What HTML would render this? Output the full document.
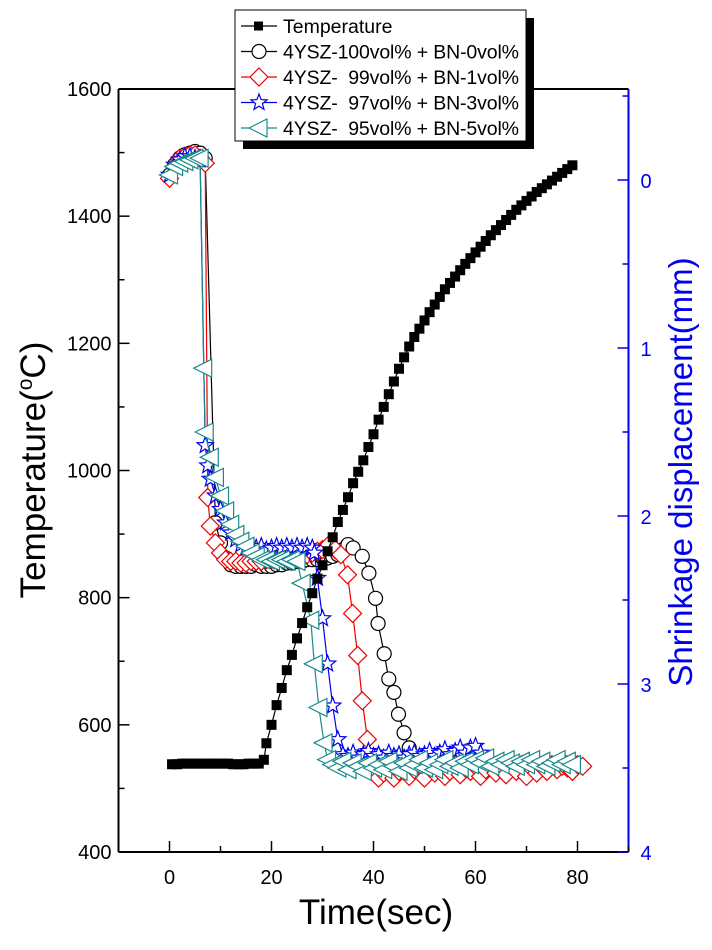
<!DOCTYPE html>
<html><head><meta charset="utf-8"><style>
body{margin:0;background:#fff;}
svg text{font-family:"Liberation Sans",Arial,sans-serif;}
</style></head><body>
<svg id="chart" width="712" height="945" xmlns="http://www.w3.org/2000/svg">
<g id="plot"></g>
<g id="axes"></g>
<text x="45" y="470" font-size="35" text-anchor="middle" transform="rotate(-90 45 470)">Temperature(<tspan font-size="21" dy="-13">o</tspan><tspan dy="13">C)</tspan></text>
<text x="692" y="472" font-size="33" fill="#0000ee" text-anchor="middle" transform="rotate(-90 692 472)">Shrinkage displacement(mm)</text>
<text x="376" y="924" font-size="35" text-anchor="middle">Time(sec)</text>
<g id="legend"></g>
</svg>
<script>
const tempT=[0.5,1.5,2.5,3.5,4.5,5.5,6.5,7.5,8.5,9.5,10.5,11.5,12.5,13.5,14.5,15.5,16.5,17.5,18.5,19,20,21,22,23,24,25,26,27,28,29,30,31,32,33,34,35,36,37,38,39,40,41,42,43,44,45,46,47,48,49,50,51,52,53,54,55,56,57,58,59,60,61,62,63,64,65,66,67,68,69,70,71,72,73,74,75,76,77,78,79];
const tempV=[538,538,539,539,539,539,539,539,539,539,539,539,538,538,538,539,539,539,545,571,600,631,658,686,710,736,760,785,807,830,851,873,895,919,938,958,980,998,1016,1037,1057,1080,1100,1120,1140,1160,1178,1195,1210,1223,1236,1249,1261,1273,1285,1295,1305,1315,1325,1334,1343,1352,1361,1370,1378,1386,1394,1402,1410,1417,1424,1431,1438,1444,1450,1456,1462,1468,1474,1480];
const s0T=[0,1,2,3,4,5,6,7,9,10,11,12,13,14,15,16,17,18,19,20,21,22,23,24,25,26,27,28,29,30,31,32,33,34,35,36,37.8,39.1,40.4,40.9,42.1,43,44,44.9,46,47,48,50,52,54,56,58,60,62,64,66,68,70,72,74,76,78,80];
const s0V=[-0.03,-0.09,-0.13,-0.15,-0.16,-0.17,-0.16,-0.13,2.04,2.16,2.25,2.29,2.30,2.30,2.30,2.30,2.29,2.30,2.30,2.30,2.29,2.29,2.28,2.28,2.27,2.27,2.26,2.26,2.26,2.25,2.25,2.24,2.23,2.20,2.17,2.19,2.24,2.34,2.49,2.64,2.82,2.97,3.05,3.18,3.29,3.38,3.45,3.47,3.48,3.47,3.49,3.47,3.48,3.50,3.49,3.48,3.50,3.51,3.49,3.50,3.48,3.47,3.49];
const s1T=[0,1,2,3,4,5,6,7,7.5,8,9,10,11,12,13,14,15,16,17,18,19,20,21,22,23,24,25,26,27,28,29,30,31.3,32.5,33.6,34.9,35.9,36.9,37.8,38.8,40,41,42,43,44,45,46,47,48,49,50,51,52,53,54,55,56,57,58,59,60,61,62,63,64,65,66,67,68,69,70,71,72,73,74,75,76,77,78,79,80,81];
const s1V=[-0.01,-0.08,-0.13,-0.14,-0.15,-0.15,-0.13,-0.10,1.89,2.06,2.16,2.22,2.26,2.27,2.27,2.28,2.28,2.27,2.27,2.27,2.26,2.26,2.26,2.25,2.25,2.25,2.24,2.24,2.23,2.22,2.21,2.20,2.17,2.20,2.23,2.35,2.58,2.83,3.10,3.33,3.50,3.56,3.53,3.50,3.56,3.52,3.49,3.55,3.51,3.48,3.56,3.50,3.53,3.49,3.55,3.52,3.48,3.54,3.50,3.52,3.49,3.55,3.51,3.48,3.53,3.50,3.54,3.49,3.52,3.48,3.55,3.50,3.53,3.49,3.52,3.48,3.51,3.49,3.50,3.52,3.48,3.49];
const s2T=[0,1,2,3,4,5,6,7,7.5,8,9,10,11,12,13,14,15,16,17,18,19,20,21,22,23,24,25,26,27,28,28.4,29,30,31,32,33,34,35,36,37,38,39,40,41,42,43,44,45,46,47,48,49,50,51,52,53,54,55,56,57,58,59,60,61];
const s2V=[-0.03,-0.09,-0.12,-0.14,-0.14,-0.13,-0.12,1.58,1.70,1.78,1.88,1.96,2.04,2.10,2.14,2.17,2.19,2.20,2.19,2.18,2.20,2.19,2.18,2.19,2.18,2.19,2.18,2.19,2.18,2.19,2.22,2.37,2.61,2.88,3.13,3.33,3.42,3.43,3.41,3.44,3.42,3.40,3.43,3.42,3.44,3.41,3.43,3.42,3.44,3.42,3.41,3.43,3.42,3.40,3.43,3.41,3.39,3.42,3.40,3.38,3.41,3.38,3.37,3.41];
const s3T=[0,1,2,3,4,5,6,6.7,7,8,9,10,11,12,13,14,15,16,17,18,19,20,21,22,23,24,25,26,27.7,28.4,29.3,30.3,31,32,33,34,35,36,37,38,39,40,41,42,43,44,45,46,47,48,49,50,51,52,53,54,55,56,57,58,59,60,61,62,63,64,65,66,67,68,69,70,71,72,73,74,75,76,77,78,79];
const s3V=[-0.03,-0.08,-0.10,-0.11,-0.12,-0.13,-0.13,1.12,1.50,1.65,1.77,1.88,1.97,2.05,2.11,2.15,2.18,2.22,2.24,2.26,2.26,2.27,2.26,2.26,2.27,2.26,2.27,2.40,2.62,2.88,3.14,3.35,3.45,3.48,3.50,3.46,3.51,3.47,3.49,3.52,3.47,3.50,3.48,3.51,3.46,3.49,3.52,3.47,3.50,3.48,3.45,3.50,3.47,3.51,3.48,3.45,3.49,3.47,3.50,3.46,3.48,3.45,3.47,3.44,3.49,3.46,3.48,3.45,3.47,3.49,3.46,3.48,3.45,3.48,3.46,3.49,3.47,3.45,3.48,3.46,3.48];
const xTicks=[0,20,40,60,80];
const yTicks=[400,600,800,1000,1200,1400,1600];
const y2Ticks=[0,1,2,3,4];
const legendLabels=["Temperature","4YSZ-100vol% + BN-0vol%","4YSZ-  99vol% + BN-1vol%","4YSZ-  97vol% + BN-3vol%","4YSZ-  95vol% + BN-5vol%"];

const L=118.5,R=628.5,T=89,B=852;
const X=t=>L+(t+10)/100*(R-L);
const Y=v=>B-(v-400)/1200*(B-T);
const Y2=m=>180+m*168;
const NS="http://www.w3.org/2000/svg";
function mk(tag,attrs,parent){const e=document.createElementNS(NS,tag);for(const k in attrs)e.setAttribute(k,attrs[k]);parent.appendChild(e);return e;}
const plot=document.getElementById('plot'),axes=document.getElementById('axes'),leg=document.getElementById('legend');

function marker(kind,x,y,col,parent){
  let e;
  if(kind==='sq'){e=mk('rect',{x:x-5,y:y-5,width:10,height:10,fill:'#000'},parent);}
  else if(kind==='ci'){e=mk('circle',{cx:x,cy:y,r:7,fill:'#fff',stroke:col,'stroke-width':1.2},parent);}
  else if(kind==='di'){e=mk('polygon',{points:`${x},${y-9} ${x+9},${y} ${x},${y+9} ${x-9},${y}`,fill:'#fff',stroke:col,'stroke-width':1.2},parent);}
  else if(kind==='st'){let p=[];for(let i=0;i<10;i++){const r=i%2?3.6:8.5,a=-Math.PI/2+i*Math.PI/5;p.push((x+r*Math.cos(a)).toFixed(1)+','+(y+r*Math.sin(a)).toFixed(1));}
    e=mk('polygon',{points:p.join(' '),fill:'#fff',stroke:col,'stroke-width':1.2},parent);}
  else {e=mk('polygon',{points:`${x-10},${y} ${x+8},${y-9} ${x+8},${y+9}`,fill:'#fff',stroke:col,'stroke-width':1.2},parent);}
  return e;
}
function series(ts,vs,ymap,kind,col,name){
  const g=mk('g',{},plot);
  
  
  const pts=ts.map((t,i)=>X(t).toFixed(1)+','+ymap(vs[i]).toFixed(1)).join(' ');
  mk('polyline',{points:pts,fill:'none',stroke:col,'stroke-width':1.2},g);
  ts.forEach((t,i)=>{const m=marker(kind,X(t),ymap(vs[i]),col,g);
    
    });
}
series(s0T,s0V,Y2,'ci','#000','bn0-series');
series(s1T,s1V,Y2,'di','#ee0000','bn1-series');
series(s2T,s2V,Y2,'st','#0000ee','bn3-series');
series(s3T,s3V,Y2,'tr','#1a8a8a','bn5-series');
series(tempT,tempV,Y,'sq','#000','temperature-series');

mk('line',{x1:L,y1:T,x2:R,y2:T,stroke:'#000','stroke-width':2},axes);
mk('line',{x1:L,y1:B,x2:R,y2:B,stroke:'#000','stroke-width':2},axes);
mk('line',{x1:L,y1:T,x2:L,y2:B,stroke:'#000','stroke-width':2},axes);
mk('line',{x1:R,y1:T,x2:R,y2:B,stroke:'#0000ee','stroke-width':2},axes);
for(let v=400;v<=1600;v+=100){const y=Y(v);mk('line',{x1:L,y1:y,x2:L+(v%200?6:11),y2:y,stroke:'#000','stroke-width':1.5},axes);}
yTicks.forEach(v=>{const t=mk('text',{x:L-7,y:Y(v)+7,'font-size':20,'text-anchor':'end'},axes);t.textContent=v;
  });
for(let v=-10;v<=90;v+=10){const x=X(v);mk('line',{x1:x,y1:B,x2:x,y2:B-(v%20?6:11),stroke:'#000','stroke-width':1.5},axes);}
xTicks.forEach(v=>{const t=mk('text',{x:X(v),y:B+32,'font-size':20,'text-anchor':'middle'},axes);t.textContent=v;
  });
for(let m=-0.5;m<=4;m+=0.5){const y=Y2(m);mk('line',{x1:R,y1:y,x2:R-(m%1?6:11),y2:y,stroke:'#0000ee','stroke-width':1.5},axes);}
y2Ticks.forEach(v=>{const t=mk('text',{x:R+12,y:Y2(v)+8,'font-size':20,fill:'#0000ee'},axes);t.textContent=v;
  });

mk('rect',{x:243,y:18,width:291,height:131,fill:'#000'},leg);
mk('rect',{x:235,y:10,width:291,height:131,fill:'#fff',stroke:'#000','stroke-width':1},leg);
const kinds=['sq','ci','di','st','tr'],cols=['#000','#000','#ee0000','#0000ee','#1a8a8a'];
legendLabels.forEach((lab,i)=>{const y=26+i*25.5;
  const g=mk('g',{},leg);
  
  
  mk('line',{x1:241,y1:y,x2:277,y2:y,stroke:cols[i],'stroke-width':1.2},g);
  if(kinds[i]==='sq')mk('rect',{x:254,y:y-4.5,width:9,height:9,fill:'#000'},g);else marker(kinds[i],259,y,cols[i],g);
  const t=mk('text',{x:283,y:y+7,'font-size':19.5,textLength:i===0?0:236},g);
  if(i===0)t.removeAttribute('textLength');
  t.textContent=lab;t.setAttribute('xml:space','preserve');t.style.whiteSpace='pre';
});
</script>
</body></html>
